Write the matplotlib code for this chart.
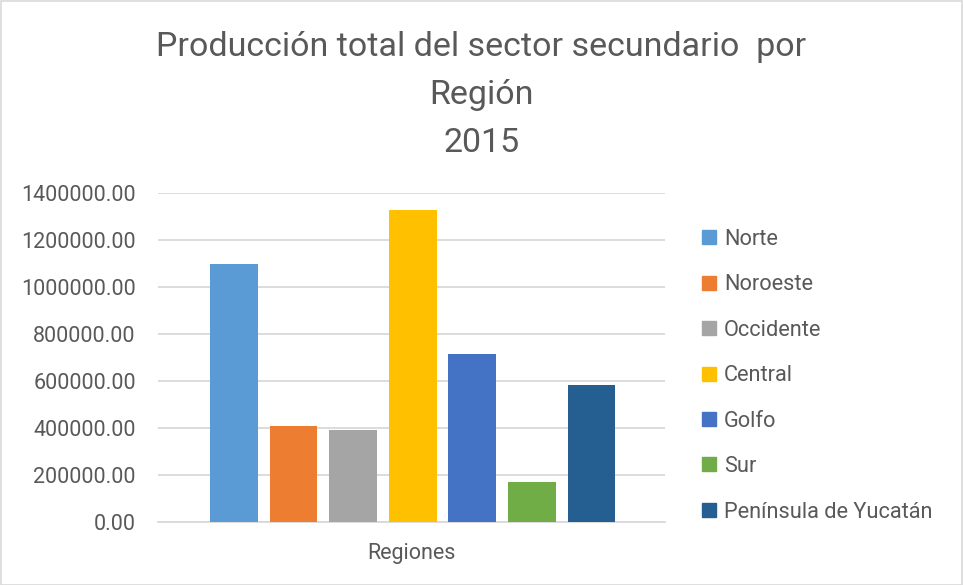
import matplotlib.pyplot as plt
from matplotlib.lines import Line2D
from matplotlib.patches import Rectangle

# datos
regiones = ['Norte', 'Noroeste', 'Occidente', 'Central', 'Golfo', 'Sur', 'Península de Yucatán']
produccion = [1097600, 407600, 390600, 1327600, 714300, 169100, 582200]
colores = ['#5B9BD5', '#ED7D31', '#A5A5A5', '#FFC000', '#4472C4', '#70AD47', '#255E91']
titulo = ['Producción total del sector secundario  por', 'Región', '2015']
yticks = [0, 200000, 400000, 600000, 800000, 1000000, 1200000, 1400000]

texto = '#595959'
plt.rcParams['font.family'] = ['Roboto', 'DejaVu Sans']

W, H = 963, 585
fig = plt.figure(figsize=(W / 100, H / 100), dpi=100)
ax = fig.add_axes([158 / W, 1 - 521.7 / H, (665 - 158) / W, (521.7 - 193) / H])

x = list(range(len(regiones)))
ax.bar(x, produccion, width=0.8, color=colores, zorder=3)
ax.set_xlim(-1.27, 7.23)
ax.set_ylim(0, 1400000)
ax.set_yticks(yticks)
ax.set_yticklabels([f'{v:.2f}' for v in yticks], fontsize=15.5, color=texto)
ax.tick_params(axis='y', length=0, pad=16)
ax.set_xticks([])
ax.grid(axis='y', color='#D9D9D9', linewidth=1.3, zorder=0)
for s in ['top', 'right', 'left']:
    ax.spines[s].set_visible(False)
ax.spines['bottom'].set_color('#D9D9D9')
ax.spines['bottom'].set_linewidth(1.3)
ax.set_xlabel('Regiones', fontsize=15.5, color=texto, labelpad=15)

# titulo
for linea, yb in zip(titulo, [56, 104, 152]):
    fig.text(0.5, 1 - yb / H, linea, ha='center', va='baseline', fontsize=24.5, color=texto)

# leyenda
handles = [Line2D([], [], marker='s', linestyle='none', markersize=9.5, color=c) for c in colores]
fig.legend(handles, regiones, loc='upper left', bbox_to_anchor=(700 / W, 1 - 229 / H),
           frameon=False, fontsize=15.7, labelcolor=texto, handlelength=0.8,
           handletextpad=0.3, labelspacing=1.12, borderpad=0, borderaxespad=0)

fig.patches.append(Rectangle((0.5 / W, 0.5 / H), 1 - 1.5 / W, 1 - 1.5 / H, transform=fig.transFigure,
                             fill=False, edgecolor='#D9D9D9', linewidth=1.2))

fig.savefig('out.png', dpi=100)
